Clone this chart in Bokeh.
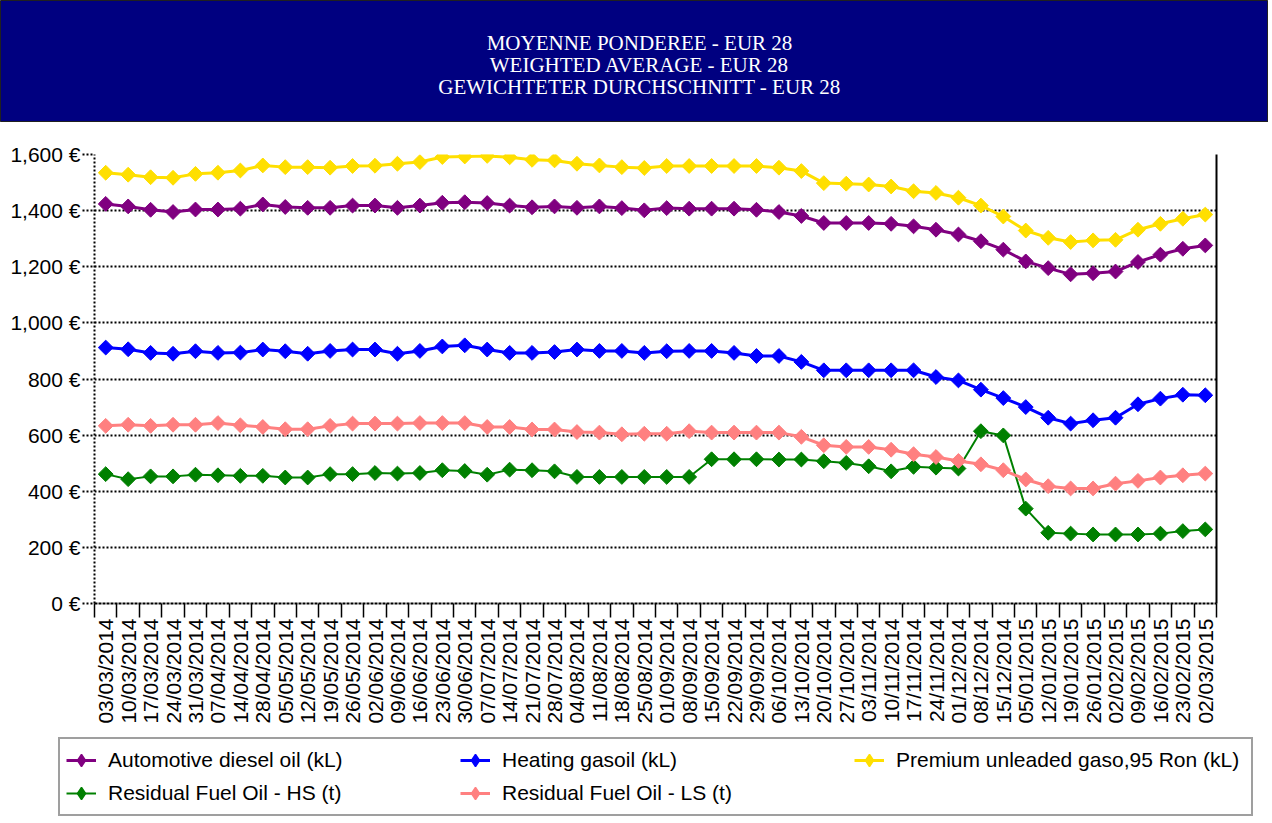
import math
from bokeh.plotting import figure
from bokeh.models import Range1d, FixedTicker, LinearAxis, Legend, LegendItem, Label
from bokeh.embed import file_html
from bokeh.resources import INLINE

title_lines = [
    "MOYENNE PONDEREE - EUR 28",
    "WEIGHTED AVERAGE - EUR 28",
    "GEWICHTETER DURCHSCHNITT - EUR 28",
]

dates = [
    "03/03/2014", "10/03/2014", "17/03/2014", "24/03/2014", "31/03/2014",
    "07/04/2014", "14/04/2014", "28/04/2014", "05/05/2014", "12/05/2014",
    "19/05/2014", "26/05/2014", "02/06/2014", "09/06/2014", "16/06/2014",
    "23/06/2014", "30/06/2014", "07/07/2014", "14/07/2014", "21/07/2014",
    "28/07/2014", "04/08/2014", "11/08/2014", "18/08/2014", "25/08/2014",
    "01/09/2014", "08/09/2014", "15/09/2014", "22/09/2014", "29/09/2014",
    "06/10/2014", "13/10/2014", "20/10/2014", "27/10/2014", "03/11/2014",
    "10/11/2014", "17/11/2014", "24/11/2014", "01/12/2014", "08/12/2014",
    "15/12/2014", "05/01/2015", "12/01/2015", "19/01/2015", "26/01/2015",
    "02/02/2015", "09/02/2015", "16/02/2015", "23/02/2015", "02/03/2015",
]

diesel = [1424, 1415, 1403, 1395, 1404, 1404, 1407, 1422, 1413, 1410, 1410, 1418, 1418, 1410,
          1418, 1428, 1430, 1427, 1418, 1412, 1415, 1410, 1415, 1409, 1401, 1409, 1407, 1407,
          1407, 1403, 1395, 1381, 1356,
          1356, 1356, 1353, 1344, 1332, 1315, 1291, 1261, 1219, 1195, 1173, 1177, 1183, 1217,
          1243, 1264, 1276]

heating = [912, 906, 893, 890, 899, 893, 894, 905, 899, 890, 900, 905, 905, 890,
           900, 916, 920, 905, 893, 893, 896, 905, 900, 900, 893, 899, 900, 900,
           893, 882, 882, 861, 831,
           831, 831, 831, 831, 807, 795, 762, 732, 700, 662, 641, 653, 662, 710,
           730, 744, 742]

premium = [1535, 1528, 1519, 1517, 1531, 1535, 1543, 1561, 1555, 1555, 1553, 1559, 1560, 1567,
           1573, 1591, 1593, 1595, 1590, 1581, 1579, 1567, 1561, 1555, 1552, 1559, 1559, 1559,
           1559, 1559, 1553, 1541, 1498,
           1496, 1493, 1486, 1469, 1463, 1446, 1418, 1379, 1329, 1303, 1288, 1294, 1296, 1332,
           1353, 1371, 1386]

fuel_hs = [461, 443, 453, 453, 459, 457, 455, 455, 449, 449, 461, 461, 465, 463,
           465, 475, 472, 459, 477, 475, 471, 451, 451, 451, 451, 451, 451, 514,
           514, 514, 513, 513, 507,
           501, 489, 471, 487, 484, 481, 614, 599, 338, 252, 249, 246, 246, 246,
           249, 258, 264]

fuel_ls = [633, 637, 633, 637, 637, 643, 635, 629, 621, 621, 633, 641, 641, 641,
           643, 643, 643, 629, 629, 620, 620, 611, 609, 603, 605, 605, 614, 609,
           609, 609, 609, 594, 564,
           558, 558, 548, 532, 522, 508, 496, 475, 442, 418, 410, 410, 427, 437,
           449, 457, 463]

series_names = [
    "Automotive diesel oil (kL)",
    "Heating gasoil (kL)",
    "Premium unleaded gaso,95 Ron (kL)",
    "Residual Fuel Oil - HS (t)",
    "Residual Fuel Oil - LS (t)",
]
series_values = [diesel, heating, premium, fuel_hs, fuel_ls]
series_colors = ["#800080", "#0000FF", "#FFDF00", "#008000", "#FF8080"]
series_widths = [3, 3, 3, 2, 3]

yticks = [0, 200, 400, 600, 800, 1000, 1200, 1400, 1600]

idx = list(range(len(dates)))

W = 1268
LEFT = 94
RIGHT = 52

# ---- title box ----
TH = 122
tf = figure(width=W, height=TH, output_backend="svg", toolbar_location=None,
            x_range=Range1d(0, W), y_range=Range1d(0, TH),
            x_axis_type=None, y_axis_type=None, min_border=0)
tf.background_fill_color = "#000080"
tf.border_fill_color = "#000080"
tf.outline_line_color = "#202020"
tf.outline_line_width = 1
tf.grid.visible = False
for txt, yy in zip(title_lines, [80, 58, 36]):
    tf.add_layout(Label(x=639, y=yy, text=txt, text_align="center",
                        text_baseline="alphabetic", text_color="white",
                        text_font="Liberation Serif", text_font_size="21px"))

# ---- main chart ----
p = figure(width=W, height=611, output_backend="svg", toolbar_location=None,
           x_range=Range1d(-0.5, len(dates) - 0.5), y_range=Range1d(0, 1600),
           min_border_left=LEFT, min_border_right=RIGHT, min_border_top=32, min_border_bottom=130)
p.outline_line_color = None
p.background_fill_color = "white"
p.border_fill_color = "white"

p.xgrid.visible = False
p.ygrid.grid_line_color = "black"
p.ygrid.grid_line_dash = "2 2"
p.ygrid.grid_line_width = 2

p.yaxis.ticker = FixedTicker(ticks=yticks)
p.yaxis.major_label_overrides = {v: f"{v:,} €" for v in yticks}
p.yaxis.major_label_text_font = "Liberation Sans"
p.yaxis.major_label_text_font_size = "21px"
p.yaxis.major_label_text_color = "black"
p.yaxis.major_label_standoff = 2
p.yaxis.major_tick_out = 12
p.yaxis.major_tick_in = 0
p.yaxis.major_tick_line_dash = "2 2"
p.yaxis.major_tick_line_width = 2
p.yaxis.minor_tick_line_color = None
p.yaxis.axis_line_dash = "2 2"
p.yaxis.axis_line_width = 2

p.xaxis.ticker = FixedTicker(ticks=idx, minor_ticks=[i - 0.5 for i in range(len(dates) + 1)])
p.xaxis.major_label_overrides = {i: d for i, d in enumerate(dates)}
p.xaxis.major_label_orientation = math.pi / 2
p.xaxis.major_label_text_font = "Liberation Sans"
p.xaxis.major_label_text_font_size = "21px"
p.xaxis.major_label_text_color = "black"
p.xaxis.major_tick_out = 0
p.xaxis.major_tick_in = 0
p.xaxis.major_tick_line_color = None
p.xaxis.major_label_standoff = 1
p.xaxis.minor_tick_out = 14
p.xaxis.minor_tick_in = 0
p.xaxis.minor_tick_line_color = "black"
p.xaxis.minor_tick_line_width = 1.5
p.xaxis.axis_line_width = 2
p.xaxis.axis_line_dash = "3 1"

right_axis = LinearAxis(ticker=FixedTicker(ticks=[]), axis_line_color="black",
                        axis_line_width=2, major_tick_line_color=None,
                        minor_tick_line_color=None, major_label_text_font_size="0px")
p.add_layout(right_axis, "right")

for vals, col, lw in zip(series_values, series_colors, series_widths):
    p.line(idx, vals, line_color=col, line_width=lw)
    p.scatter(idx, vals, marker="square", size=10.5, angle=math.pi / 4,
              fill_color=col, line_color=col)

# ---- legend panel (series re-plotted off-range so only their legend swatches show) ----
LH = 86
lf = figure(width=W, height=LH, output_backend="svg", toolbar_location=None,
            x_range=Range1d(0, W), y_range=Range1d(0, LH),
            x_axis_type=None, y_axis_type=None, min_border=0)
lf.outline_line_color = None
lf.background_fill_color = "white"
lf.border_fill_color = "white"
lf.grid.visible = False

items = []
for name, vals, col, lw in zip(series_names, series_values, series_colors, series_widths):
    rl = lf.line(idx, vals, line_color=col, line_width=lw)
    rs = lf.scatter(idx, vals, marker="diamond", size=12,
                    fill_color=col, line_color=col, line_width=1.5)
    items.append(LegendItem(label=name, renderers=[rl, rs]))

legend = Legend(items=items, orientation="horizontal", ncols=3,
                location=(58, 3), glyph_width=30, glyph_height=30, spacing=3,
                padding=6, label_standoff=12, label_width=349,
                label_text_font="Liberation Sans", label_text_font_size="21px",
                label_text_color="black", border_line_color="#404040",
                border_line_width=2, background_fill_color="white",
                background_fill_alpha=1.0, margin=0)
lf.add_layout(legend, "center")

open("out.html", "w").write(file_html([tf, p, lf], INLINE))
